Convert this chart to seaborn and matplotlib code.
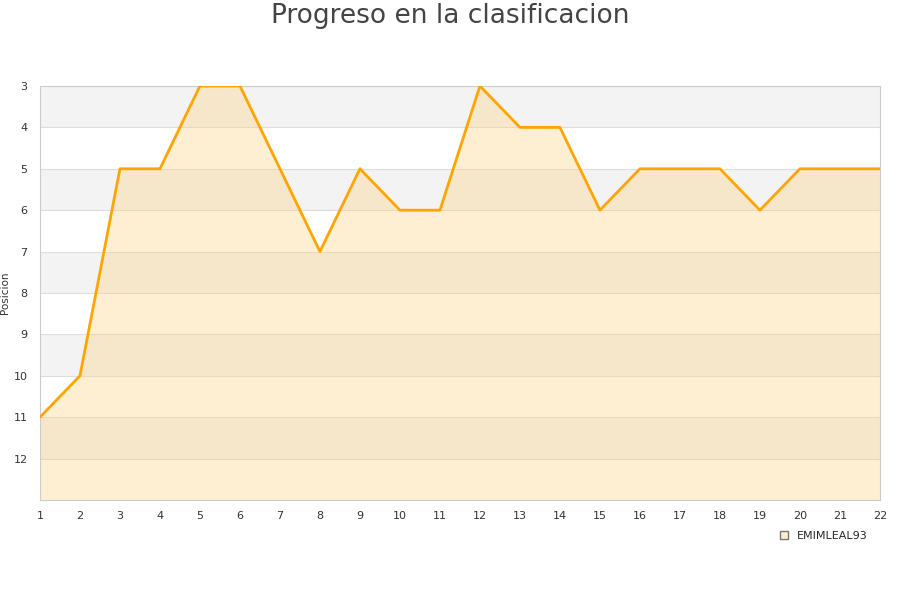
import numpy as np
import pandas as pd
import matplotlib
matplotlib.use('Agg')
import matplotlib.pyplot as plt
import seaborn as sns
from matplotlib.patches import Patch

# Jornadas and position per jornada
jornadas = list(range(1, 23))
posicion = [11, 10, 5, 5, 3, 3, 5, 7, 5, 6, 6, 3, 4, 4, 6, 5, 5, 5, 6, 5, 5, 5]
jugador = 'EMIMLEAL93'

df = pd.DataFrame({'Jornada': jornadas, 'Posicion': posicion})

sns.set_style('white')
plt.rcParams['font.family'] = ['DejaVu Sans']

fig = plt.figure(figsize=(9, 6), dpi=100)
ax = fig.add_axes([0.0444, 0.1667, 0.9333, 0.69])

y_min, y_max = 3, 13

# alternating horizontal bands
for i, y in enumerate(range(y_min, y_max)):
    ax.axhspan(y, y + 1, color='#f3f3f3' if i % 2 == 0 else 'white', zorder=0, lw=0)
for y in range(y_min + 1, y_max):
    ax.axhline(y, color='#dddddd', lw=0.8, zorder=1)

ax.fill_between(df['Jornada'], df['Posicion'], y_max, color='#ffd27f', alpha=0.35,
                lw=0, zorder=2)
sns.lineplot(data=df, x='Jornada', y='Posicion', ax=ax, color='#ffa500', lw=2,
             zorder=3)

ax.set_xlim(1, 22)
ax.set_ylim(y_max, y_min)
ax.set_xticks(jornadas)
ax.set_yticks(range(3, 13))
ax.tick_params(axis='x', labelsize=8, colors='#333333', length=0, pad=8)
ax.tick_params(axis='y', labelsize=8, colors='#333333', length=0, pad=9)
ax.set_xlabel('')
ax.set_ylabel('Posicion', fontsize=7.5, color='#333333')
ax.yaxis.set_label_coords(-0.036, 0.5)

for s in ax.spines.values():
    s.set_color('#cccccc')
    s.set_linewidth(0.8)

fig.suptitle('Progreso en la clasificacion', fontsize=19, color='#444444', y=0.995)

handles = [Patch(facecolor='#ffeecc', edgecolor='#777777', label=jugador)]
fig.legend(handles=handles, loc='center', bbox_to_anchor=(0.915, 0.107), frameon=False,
           fontsize=8, handlelength=0.7, handleheight=0.7)

fig.savefig('out.png', dpi=100)
